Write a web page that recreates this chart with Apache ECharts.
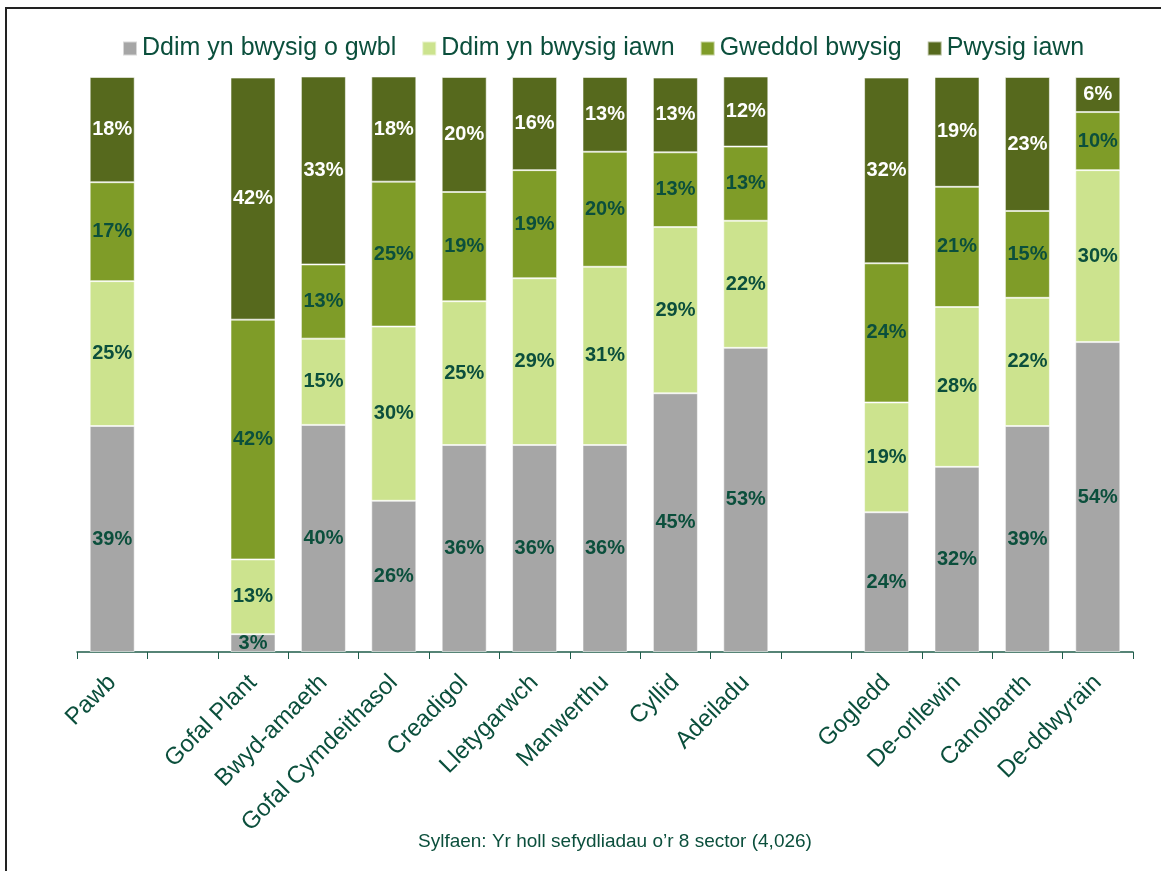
<!DOCTYPE html>
<html>
<head>
<meta charset="utf-8">
<script src="https://cdn.jsdelivr.net/npm/echarts@6/dist/echarts.min.js"></script>
<style>html,body{margin:0;padding:0;background:#fff;}#c{width:1161px;height:871px;}</style>
</head>
<body>
<div id="c"></div>
<script>
const categories = ['Pawb', '', 'Gofal Plant', 'Bwyd-amaeth', 'Gofal Cymdeithasol', 'Creadigol', 'Lletygarwch', 'Manwerthu', 'Cyllid', 'Adeiladu', ' ', 'Gogledd', 'De-orllewin', 'Canolbarth', 'De-ddwyrain'];
const seriesNames = ['Ddim yn bwysig o gwbl', 'Ddim yn bwysig iawn', 'Gweddol bwysig', 'Pwysig iawn'];
const notAtAll = [39.3, null, 3.1, 39.5, 26.3, 36.0, 36.0, 36.0, 45.0, 52.9, null, 24.3, 32.2, 39.3, 53.9];
const notVery = [25.2, null, 13.0, 15.0, 30.3, 25.0, 29.0, 31.0, 28.9, 22.1, null, 19.1, 27.8, 22.3, 29.9];
const fairly = [17.2, null, 41.7, 12.9, 25.2, 19.0, 18.8, 20.0, 13.0, 12.9, null, 24.2, 20.9, 15.1, 10.1];
const very = [18.3, null, 42.1, 32.7, 18.3, 20.0, 16.2, 13.0, 13.0, 12.2, null, 32.3, 19.1, 23.3, 6.1];
const footnote = 'Sylfaen: Yr holl sefydliadau o\u2019r 8 sector (4,026)';

const colors = ['#A6A6A6', '#CCE38E', '#7F9C28', '#56691D'];
const labelColors = ['#0B4F3C', '#0B4F3C', '#0B4F3C', '#FFFFFF'];
const dataSets = [notAtAll, notVery, fairly, very];
const textColor = '#0B4F3C';
const font = 'Liberation Sans, Arial, sans-serif';

const chart = echarts.init(document.getElementById('c'));
chart.setOption({
  animation: false,
  textStyle: { fontFamily: font },
  graphic: [
    { type: 'rect', shape: { x: 6, y: 8, width: 1200, height: 900 }, style: { fill: 'none', stroke: '#222', lineWidth: 2 } }
  ],
  title: {
    text: footnote, left: 413, top: 827,
    textStyle: { fontFamily: font, fontSize: 19, fontWeight: 'normal', color: textColor }
  },
  legend: {
    top: 31, left: 117,
    itemWidth: 14, itemHeight: 14, itemGap: 25,
    icon: 'rect',
    textStyle: { fontFamily: font, fontSize: 25, color: textColor },
    data: seriesNames
  },
  grid: { left: 77, right: 28, top: 77, bottom: 219, containLabel: false },
  xAxis: {
    type: 'category',
    data: categories,
    axisLine: { lineStyle: { color: '#1F5C4A', width: 1.5 } },
    axisTick: { show: true, length: 7, lineStyle: { color: '#1F5C4A' } },
    axisLabel: { rotate: 45, interval: 0, margin: 27, fontSize: 24, color: textColor, fontFamily: font }
  },
  yAxis: { type: 'value', min: 0, max: 100, show: false, splitLine: { show: false } },
  series: dataSets.map((d, i) => ({
    name: seriesNames[i],
    type: 'bar',
    stack: 'total',
    barWidth: 45,
    data: d,
    itemStyle: { color: colors[i], borderColor: 'rgba(255,255,255,0.55)', borderWidth: 1 },
    label: {
      show: true, position: 'inside',
      formatter: p => p.value == null ? '' : Math.round(p.value) + '%',
      color: labelColors[i], fontSize: 20, fontWeight: 'bold', fontFamily: font
    }
  }))
});
</script>
</body>
</html>
